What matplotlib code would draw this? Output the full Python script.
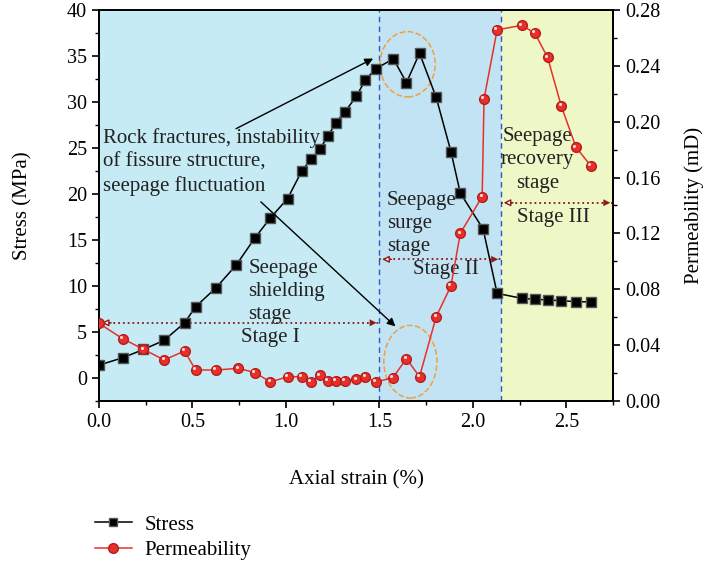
import matplotlib
matplotlib.use('Agg')
import matplotlib.pyplot as plt
import matplotlib.ticker as mtick
import matplotlib.transforms as mtrans
from matplotlib.patches import Ellipse
from matplotlib.lines import Line2D

plt.rcParams['font.family'] = ['Liberation Serif', 'DejaVu Serif']

# data
strain_s = [0.0, 0.127, 0.238, 0.349, 0.458, 0.517, 0.626, 0.735, 0.835, 0.917,
            1.009, 1.085, 1.135, 1.182, 1.226, 1.266, 1.314, 1.377, 1.425, 1.48,
            1.575, 1.645, 1.715, 1.804, 1.883, 1.933, 2.055, 2.13,
            2.262, 2.332, 2.40, 2.473, 2.552, 2.63]
stress = [1.4, 2.2, 3.1, 4.1, 6.0, 7.75, 9.8, 12.3, 15.25, 17.4,
          19.5, 22.5, 23.8, 24.9, 26.3, 27.75, 28.9, 30.6, 32.4, 33.6,
          34.7, 32.1, 35.3, 30.5, 24.6, 20.1, 16.2, 9.2,
          8.66, 8.55, 8.48, 8.4, 8.3, 8.26]

strain_p = [0.0, 0.127, 0.238, 0.349, 0.458, 0.517, 0.626, 0.746, 0.835, 0.917,
            1.009, 1.085, 1.135, 1.182, 1.226, 1.266, 1.314, 1.377, 1.425, 1.48,
            1.572, 1.645, 1.715, 1.804, 1.883, 1.933, 2.05, 2.06, 2.13,
            2.262, 2.332, 2.40, 2.473, 2.552, 2.63]
perm = [0.0556, 0.0446, 0.037, 0.0294, 0.0358, 0.0222, 0.0222, 0.0234, 0.0203, 0.0136,
        0.0174, 0.0174, 0.0136, 0.0184, 0.0143, 0.0143, 0.0143, 0.0155, 0.0174, 0.0136,
        0.0167, 0.0303, 0.0174, 0.0604, 0.0824, 0.120, 0.1464, 0.2163, 0.2658,
        0.269, 0.2634, 0.246, 0.2113, 0.1817, 0.1686]

stage_edges = [0.0, 1.5, 2.15, 2.75]
stage_colors = ['#c6ebf4', '#c2e3f4', '#eef7c6']

red = '#e8302a'
dark_red = '#8b1a1a'
txt = '#222222'

fig = plt.figure(figsize=(7.1, 5.64), dpi=100)
ax = fig.add_axes([0.1394, 0.289, 0.724, 0.6933])
ax2 = ax.twinx()

for i in range(3):
    ax.axvspan(stage_edges[i], stage_edges[i + 1], color=stage_colors[i], zorder=0, lw=0)
for xb in [1.5, 2.15]:
    ax.axvline(xb, color='#3455c8', ls=(0, (4, 3)), lw=1.0, zorder=1)

ax.plot(strain_s, stress, '-s', color='black', lw=1.1, ms=7, mfc='black',
        mec='#555555', zorder=4)
ax2.plot(strain_p, perm, '-o', color=red, lw=1.1, ms=7, mfc=red,
         mec='#b81c1c', zorder=4)
# small highlight on the spheres
shine = mtrans.offset_copy(ax2.transData, fig=fig, x=-1.2, y=1.2, units='points')
ax2.plot(strain_p, perm, 'o', ms=2.2, mfc='white', mec='none', alpha=0.85,
         transform=shine, zorder=5)

ax.set_xlim(0, 2.75)
ax.set_ylim(-2.5, 40)
ax2.set_ylim(0, 0.28)

ax.xaxis.set_major_locator(mtick.MultipleLocator(0.5))
ax.xaxis.set_minor_locator(mtick.MultipleLocator(0.25))
ax.xaxis.set_major_formatter(mtick.FormatStrFormatter('%.1f'))
ax.yaxis.set_major_locator(mtick.MultipleLocator(5))
ax.yaxis.set_minor_locator(mtick.MultipleLocator(2.5))
ax2.yaxis.set_major_locator(mtick.MultipleLocator(0.04))
ax2.yaxis.set_minor_locator(mtick.MultipleLocator(0.02))
ax2.yaxis.set_major_formatter(mtick.FormatStrFormatter('%.2f'))

for a in [ax, ax2]:
    a.tick_params(which='major', direction='out', length=5, width=1.2, labelsize=14.5)
    a.tick_params(which='minor', direction='out', length=3, width=1.0)
    for s in a.spines.values():
        s.set_linewidth(1.3)

ax.set_xlabel('Axial strain (%)', fontsize=15, labelpad=28)
ax.set_ylabel('Stress (MPa)', fontsize=15, labelpad=25)
ax2.set_ylabel('Permeability (mD)', fontsize=15, labelpad=17)

# stage arrows
def stage_arrow(x0, x1, y):
    ax.plot([x0, x1], [y, y], ls=':', color=dark_red, lw=1.3, zorder=3)
    ax.annotate('', xy=(x1, y), xytext=(x1 - 0.08, y),
                arrowprops=dict(arrowstyle='-|>', color=dark_red, lw=0.1,
                                mutation_scale=12), zorder=3)
    ax.annotate('', xy=(x0, y), xytext=(x0 + 0.08, y),
                arrowprops=dict(arrowstyle='-|>', color=dark_red, fc='white', lw=1.0,
                                mutation_scale=10), zorder=3)

stage_arrow(0.0, 1.5, 6.0)
stage_arrow(1.5, 2.15, 12.9)
stage_arrow(2.15, 2.75, 19.05)

fs = 15
ax.text(0.915, 4.4, 'Stage I', fontsize=fs, ha='center', va='center', color=txt)
ax.text(0.80, 9.4, 'Seepage\nshielding\nstage', fontsize=fs, ha='left', va='center',
        linespacing=1.3, color=txt)
ax.text(1.54, 16.8, 'Seepage\nsurge\nstage', fontsize=fs, ha='left', va='center',
        linespacing=1.3, color=txt)
ax.text(1.856, 11.8, 'Stage II', fontsize=fs, ha='center', va='center', color=txt)
ax.text(2.345, 23.7, 'Seepage\nrecovery\nstage', fontsize=fs, ha='center', va='center',
        linespacing=1.3, color=txt)
ax.text(2.43, 17.4, 'Stage III', fontsize=fs, ha='center', va='center', color=txt)
ax.text(0.02, 23.5, 'Rock fractures, instability\nof fissure structure,\nseepage fluctuation',
        fontsize=fs, ha='left', va='center', linespacing=1.3, color=txt)

ax.annotate('', xy=(1.48, 34.86), xytext=(0.72, 26.96),
            arrowprops=dict(arrowstyle='-|>', color='black', lw=1.0, mutation_scale=12), zorder=5)
ax.annotate('', xy=(1.597, 5.4), xytext=(0.855, 19.35),
            arrowprops=dict(arrowstyle='-|>', color='black', lw=1.0, mutation_scale=12), zorder=5)

ax.add_patch(Ellipse((1.651, 34.1), 0.295, 7.1, fill=False, ec='#f0a040', ls='--', lw=1.1, zorder=3))
ax.add_patch(Ellipse((1.666, 1.77), 0.284, 7.9, fill=False, ec='#f0a040', ls='--', lw=1.1, zorder=3))

handles = [Line2D([], [], color='black', marker='s', ms=6, lw=1.1, mec='#555555'),
           Line2D([], [], color=red, marker='o', ms=7, lw=1.1, mec='#b81c1c')]
fig.legend(handles, ['Stress', 'Permeability'], loc='upper left',
           bbox_to_anchor=(0.107, 0.12), frameon=False, fontsize=15,
           handlelength=1.8, handletextpad=0.6, labelspacing=0.3)

plt.savefig('out.png', dpi=100)
